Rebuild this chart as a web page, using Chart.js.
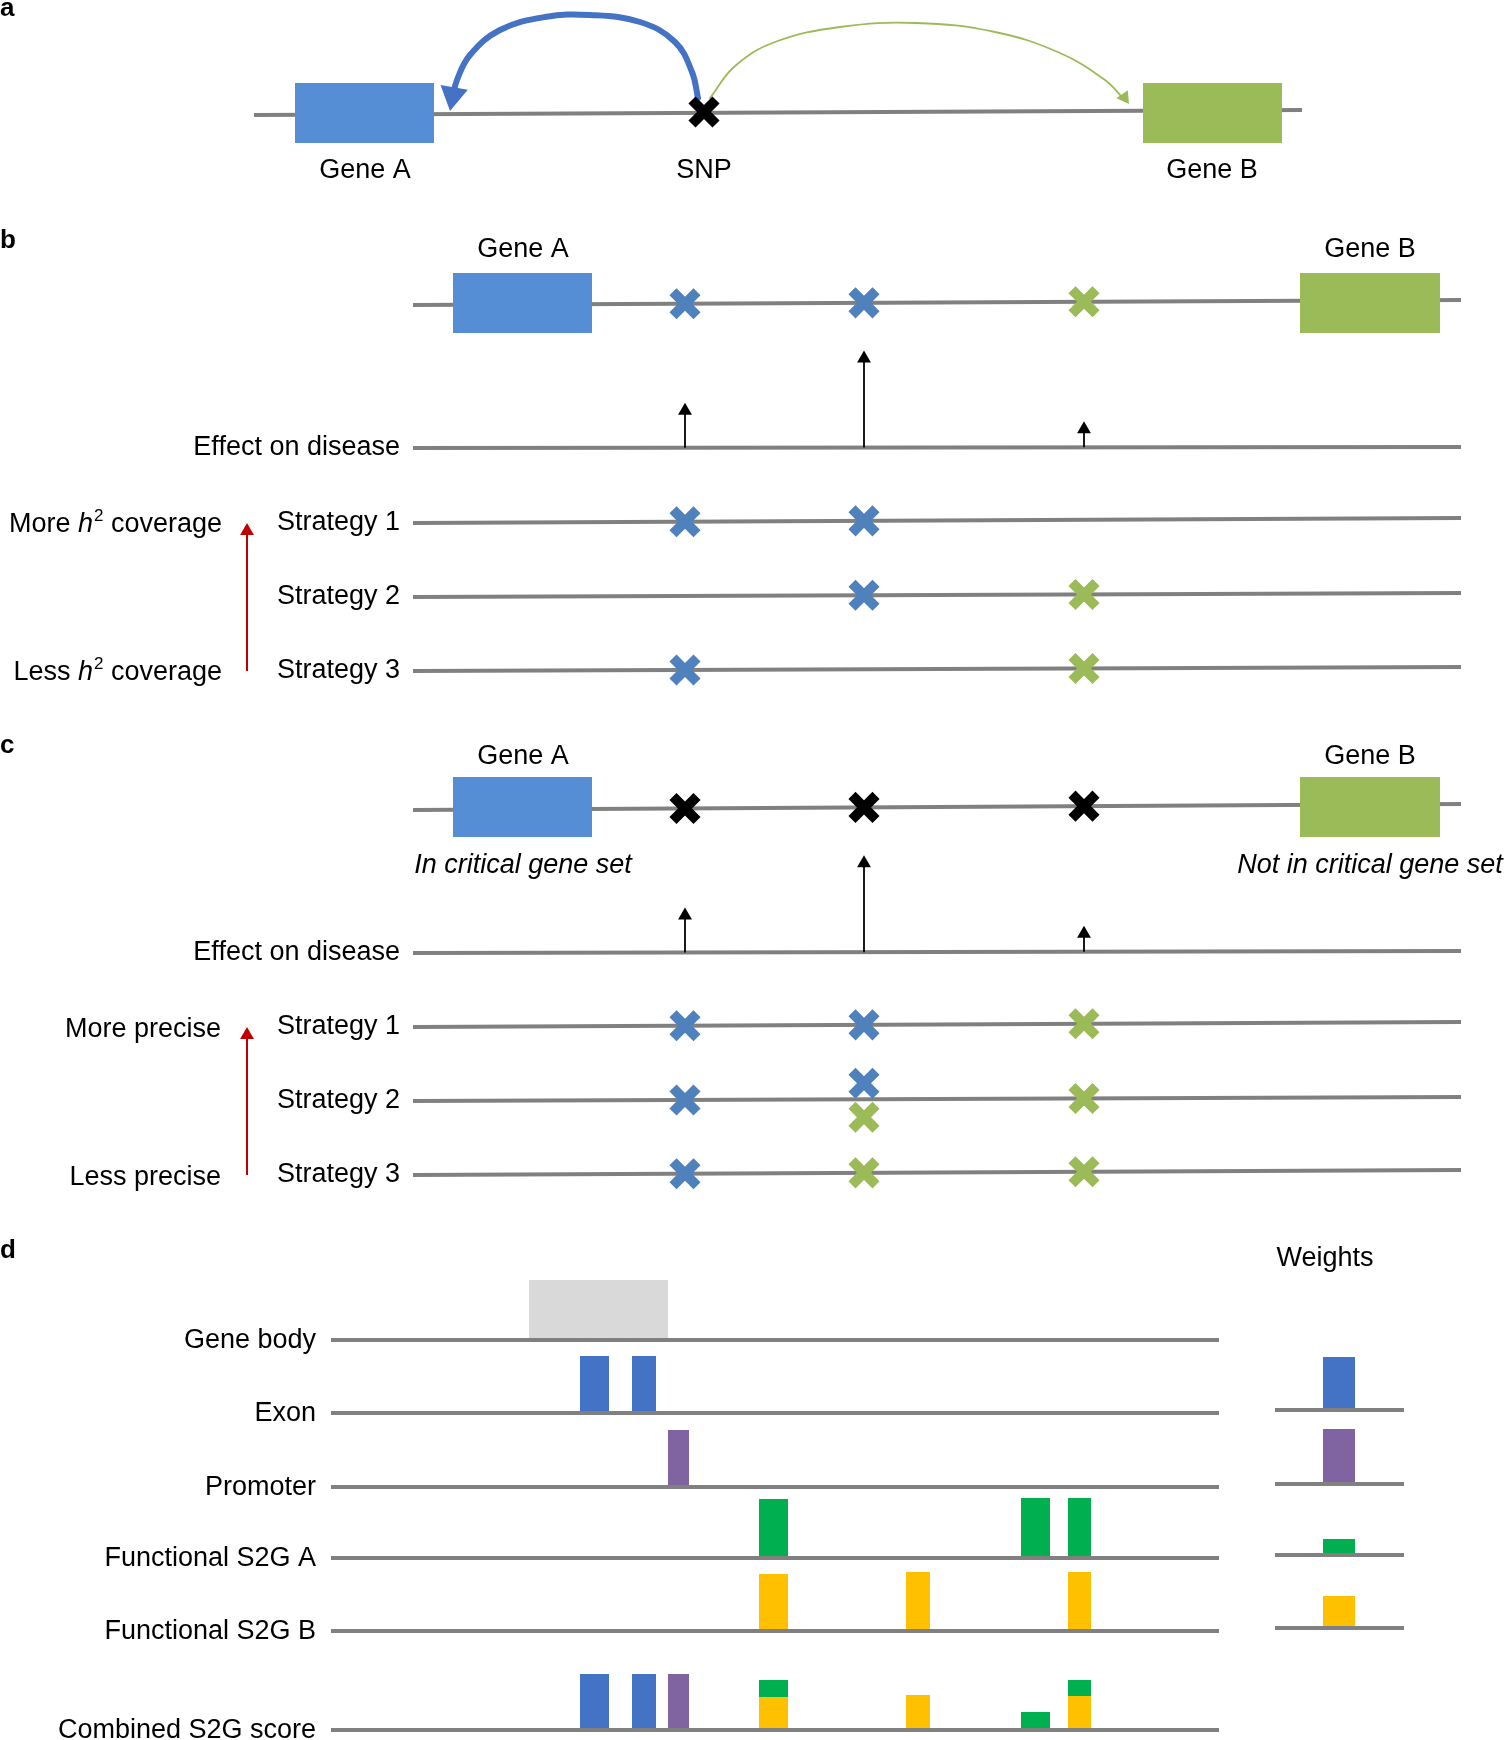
<!DOCTYPE html>
<html lang="en">
<head>
<meta charset="UTF-8">
<title>SNP-to-gene strategies</title>
<script src="https://cdn.jsdelivr.net/npm/chart.js"></script>
<style>
  html, body { margin: 0; padding: 0; background: #fff; }
  canvas { display: block; }
</style>
</head>
<body>
<canvas id="fig" width="1505" height="1740"></canvas>
<script>
// ---------- data (page units, y grows downward) ----------
const snpX = [685, 864, 1084];          // the three SNPs in panels b and c
const effectSize = [45, 97, 26];        // arrow heights, "Effect on disease"
const trackX = [413, 1461];             // extent of tracks in b and c

// panel a
const aLineX = [254, 1302];
const aLineY = [115, 110];
const aGeneX = [[295, 434], [1143, 1282]];
const aGeneY = [83, 143];
const aSnp = [704, 112];
const blueArc = [[698, 98], [692, 72], [675, 42], [640, 22], [590, 15], [545, 17], [500, 30], [470, 55], [457, 80], [452, 100]];
const greenArc = [[710, 98], [735, 66], [775, 42], [840, 27], [916, 23], [995, 32], [1060, 53], [1105, 80], [1122, 97]];

// panels b and c
const geneX = [[453, 592], [1300, 1440]];
const bGeneY = [273, 333];
const cGeneY = [777, 837];
// rows: gene track, effect, strategy 1..3  -> [y at left end, y at right end]
const bRowY = [[305, 300], [448, 447], [523, 518], [597, 593], [671, 667]];
const cRowY = [[810, 804], [953, 951], [1027, 1022], [1101, 1097], [1175, 1170]];
// crosses per row: [snp index, colour key, vertical shift]
const bGeneCross = [[0, 'b'], [1, 'b'], [2, 'g']];
const cGeneCross = [[0, 'k'], [1, 'k'], [2, 'k']];
const bStrategies = [
  [[0, 'b'], [1, 'b']],
  [[1, 'b'], [2, 'g']],
  [[0, 'b'], [2, 'g']]
];
const cStrategies = [
  [[0, 'b'], [1, 'b'], [2, 'g']],
  [[0, 'b'], [1, 'b', -16], [1, 'g', 18], [2, 'g']],
  [[0, 'b'], [1, 'g'], [2, 'g']]
];
const strategyNames = ['Strategy 1', 'Strategy 2', 'Strategy 3'];

// panel d
const dTracks = ['Gene body', 'Exon', 'Promoter', 'Functional S2G A', 'Functional S2G B', 'Combined S2G score'];
const dTrackY = [1340, 1413, 1487, 1558, 1631, 1730];
const dTrackX = [331, 1219];
const bodyBar = [[529, 668]], bodyH = [60];
const exonBars = [[580, 609], [632, 656]], exonH = [57, 57];
const promBars = [[668, 689]], promH = [57];
const funcABars = [[759, 788], [1021, 1050], [1068, 1091]], funcAH = [59, 60, 60];
const funcBBars = [[759, 788], [906, 930], [1068, 1091]], funcBH = [57, 59, 59];
// combined score: [from, to] above the baseline
const combExon = [[0, 56], [0, 56]];
const combProm = [[0, 56]];
const combB = [[0, 33], [0, 35], [0, 34]];
const combA = [[33, 50], [0, 18], [34, 50]];
// weights
const weightX = [1275, 1404];
const weightBarX = [1323, 1355];
const weightY = [1410, 1484, 1555, 1628];
const weights = [53, 55, 16, 32];

const colors = {
  line: '#808080', geneA: '#558ED5', geneB: '#9BBB59',
  b: '#4F81BD', g: '#9BBB59', k: '#000000',
  arcBlue: '#4472C4', red: '#C00000',
  body: '#D9D9D9', exon: '#4472C4', prom: '#8064A2', funcA: '#00B050', funcB: '#FFC000'
};

// ---------- build datasets ----------
const datasets = [];

function seg(x0, y0, x1, y1, color, width, order) {
  datasets.push({ data: [{x: x0, y: y0}, {x: x1, y: y1}], borderColor: color, borderWidth: width,
    pointRadius: 0, fill: false, tension: 0, order: order });
}
function rect(x0, x1, top, bottom, color, order) {
  datasets.push({ data: [{x: x0, y: top}, {x: x1, y: top}], borderColor: 'rgba(0,0,0,0)', borderWidth: 0,
    backgroundColor: color, fill: {value: bottom}, pointRadius: 0, tension: 0, order: order });
}
function crosses(points, color) {
  datasets.push({ data: points, showLine: false, pointStyle: 'crossRot', pointRadius: 17,
    pointBorderWidth: 10, pointBorderColor: color, pointBackgroundColor: color, order: 1 });
}
function head(tx, ty, rot, r, color) {
  const rad = rot * Math.PI / 180;
  datasets.push({ data: [{x: tx - Math.sin(rad) * r, y: ty + Math.cos(rad) * r}], showLine: false,
    pointStyle: 'triangle', pointRadius: r, pointRotation: rot, pointBorderWidth: 0,
    pointBackgroundColor: color, order: 1 });
}
function arrowUp(x, yBase, yTip, color, width) {
  seg(x, yBase, x, yTip + 6, color, width, 1);
  head(x, yTip, 0, 8, color);
}
function curve(pts, color, width) {
  datasets.push({ data: pts.map(p => ({x: p[0], y: p[1]})), borderColor: color, borderWidth: width,
    pointRadius: 0, tension: 0.4, fill: false, order: 1, borderCapStyle: 'round' });
}
function yAt(row, x) {
  return row[0] + (row[1] - row[0]) * (x - trackX[0]) / (trackX[1] - trackX[0]);
}

// panel a
seg(aLineX[0], aLineY[0], aLineX[1], aLineY[1], colors.line, 4, 3);
rect(aGeneX[0][0], aGeneX[0][1], aGeneY[0], aGeneY[1], colors.geneA, 2);
rect(aGeneX[1][0], aGeneX[1][1], aGeneY[0], aGeneY[1], colors.geneB, 2);
crosses([{x: aSnp[0], y: aSnp[1]}], colors.k);
curve(blueArc, colors.arcBlue, 6);
head(450, 111, 190, 16, colors.arcBlue);
curve(greenArc, colors.g, 1.8);
head(1129, 104, 145, 8, colors.g);

// panels b and c
function genePanel(rows, geneY, geneCross, strategies) {
  rows.forEach(r => seg(trackX[0], r[0], trackX[1], r[1], colors.line, 4, 3));
  rect(geneX[0][0], geneX[0][1], geneY[0], geneY[1], colors.geneA, 2);
  rect(geneX[1][0], geneX[1][1], geneY[0], geneY[1], colors.geneB, 2);
  const crossRows = [geneCross, null].concat(strategies);
  crossRows.forEach((list, i) => {
    if (!list) return;
    ['b', 'g', 'k'].forEach(key => {
      const pts = list.filter(c => c[1] === key)
        .map(c => ({x: snpX[c[0]], y: yAt(rows[i], snpX[c[0]]) + (c[2] || 0)}));
      if (pts.length) crosses(pts, colors[key]);
    });
  });
  snpX.forEach((x, i) => {
    const base = yAt(rows[1], x);
    arrowUp(x, base, base - effectSize[i], '#000', 1.8);
  });
  arrowUp(247, rows[4][0], rows[2][0], colors.red, 2);
}
genePanel(bRowY, bGeneY, bGeneCross, bStrategies);
genePanel(cRowY, cGeneY, cGeneCross, cStrategies);

// panel d
dTrackY.forEach(y => seg(dTrackX[0], y, dTrackX[1], y, colors.line, 4, 3));
function bars(list, heights, base, color) {
  list.forEach((b, i) => rect(b[0], b[1], base - heights[i], base, color, 5));
}
function stacked(list, spans, base, color) {
  list.forEach((b, i) => rect(b[0], b[1], base - spans[i][1], base - spans[i][0], color, 5));
}
bars(bodyBar, bodyH, dTrackY[0], colors.body);
bars(exonBars, exonH, dTrackY[1], colors.exon);
bars(promBars, promH, dTrackY[2], colors.prom);
bars(funcABars, funcAH, dTrackY[3], colors.funcA);
bars(funcBBars, funcBH, dTrackY[4], colors.funcB);
stacked(exonBars, combExon, dTrackY[5], colors.exon);
stacked(promBars, combProm, dTrackY[5], colors.prom);
stacked(funcBBars, combB, dTrackY[5], colors.funcB);
stacked(funcABars, combA, dTrackY[5], colors.funcA);
const weightColors = [colors.exon, colors.prom, colors.funcA, colors.funcB];
weightY.forEach((y, i) => {
  seg(weightX[0], y, weightX[1], y, colors.line, 4, 3);
  rect(weightBarX[0], weightBarX[1], y - weights[i], y, weightColors[i], 5);
});

// ---------- text ----------
const FONT = '"Liberation Sans", Arial, Helvetica, sans-serif';
const texts = [
  {runs: [['a']], x: 0, y: 16, align: 'left', bold: true},
  {runs: [['b']], x: 0, y: 248, align: 'left', bold: true},
  {runs: [['c']], x: 0, y: 753, align: 'left', bold: true},
  {runs: [['d']], x: 0, y: 1258, align: 'left', bold: true},
  {runs: [['Gene A']], x: 365, y: 178, align: 'center'},
  {runs: [['SNP']], x: 704, y: 178, align: 'center'},
  {runs: [['Gene B']], x: 1212, y: 178, align: 'center'},
  {runs: [['Gene A']], x: 523, y: 257, align: 'center'},
  {runs: [['Gene B']], x: 1370, y: 257, align: 'center'},
  {runs: [['Gene A']], x: 523, y: 764, align: 'center'},
  {runs: [['Gene B']], x: 1370, y: 764, align: 'center'},
  {runs: [['In critical gene set', 'i']], x: 523, y: 873, align: 'center'},
  {runs: [['Not in critical gene set', 'i']], x: 1370, y: 873, align: 'center'},
  {runs: [['More '], ['h', 'i'], ['2', 'sup'], [' coverage']], x: 221, y: 532, align: 'right'},
  {runs: [['Less '], ['h', 'i'], ['2', 'sup'], [' coverage']], x: 221, y: 680, align: 'right'},
  {runs: [['More precise']], x: 221, y: 1037, align: 'right'},
  {runs: [['Less precise']], x: 221, y: 1185, align: 'right'},
  {runs: [['Weights']], x: 1325, y: 1266, align: 'center'}
];
[bRowY, cRowY].forEach(rows => {
  texts.push({runs: [['Effect on disease']], x: 400, y: rows[1][0] + 7, align: 'right'});
  strategyNames.forEach((s, i) => texts.push({runs: [[s]], x: 400, y: rows[i + 2][0] + 7, align: 'right'}));
});
dTracks.forEach((s, i) => texts.push({runs: [[s]], x: 316, y: dTrackY[i] + 8, align: 'right'}));

function runFont(style, bold) {
  if (bold) return 'bold 26px ' + FONT;
  if (style === 'i') return 'italic 27px ' + FONT;
  if (style === 'sup') return '17px ' + FONT;
  return '27px ' + FONT;
}

const textPlugin = {
  id: 'figText',
  afterDraw(chart) {
    const {ctx, scales} = chart;
    ctx.save();
    ctx.fillStyle = '#000';
    ctx.textAlign = 'left';
    ctx.textBaseline = 'alphabetic';
    texts.forEach(t => {
      const widths = t.runs.map(r => { ctx.font = runFont(r[1], t.bold); return ctx.measureText(r[0]).width; });
      const total = widths.reduce((a, b) => a + b, 0);
      let px = scales.x.getPixelForValue(t.x);
      const py = scales.y.getPixelForValue(t.y);
      if (t.align === 'right') px -= total;
      if (t.align === 'center') px -= total / 2;
      t.runs.forEach((r, i) => {
        ctx.font = runFont(r[1], t.bold);
        ctx.fillText(r[0], px, r[1] === 'sup' ? py - 11 : py);
        px += widths[i] + (r[1] === 'i' && t.runs.length > 1 ? 1 : 0);
      });
    });
    ctx.restore();
  }
};

new Chart(document.getElementById('fig'), {
  type: 'line',
  data: { datasets: datasets },
  options: {
    responsive: false,
    animation: false,
    events: [],
    layout: { padding: 0, autoPadding: false },
    plugins: { legend: { display: false }, tooltip: { enabled: false } },
    scales: {
      x: { type: 'linear', min: 0, max: 1505, display: false },
      y: { type: 'linear', min: 0, max: 1740, reverse: true, display: false }
    }
  },
  plugins: [textPlugin]
});
</script>
</body>
</html>
